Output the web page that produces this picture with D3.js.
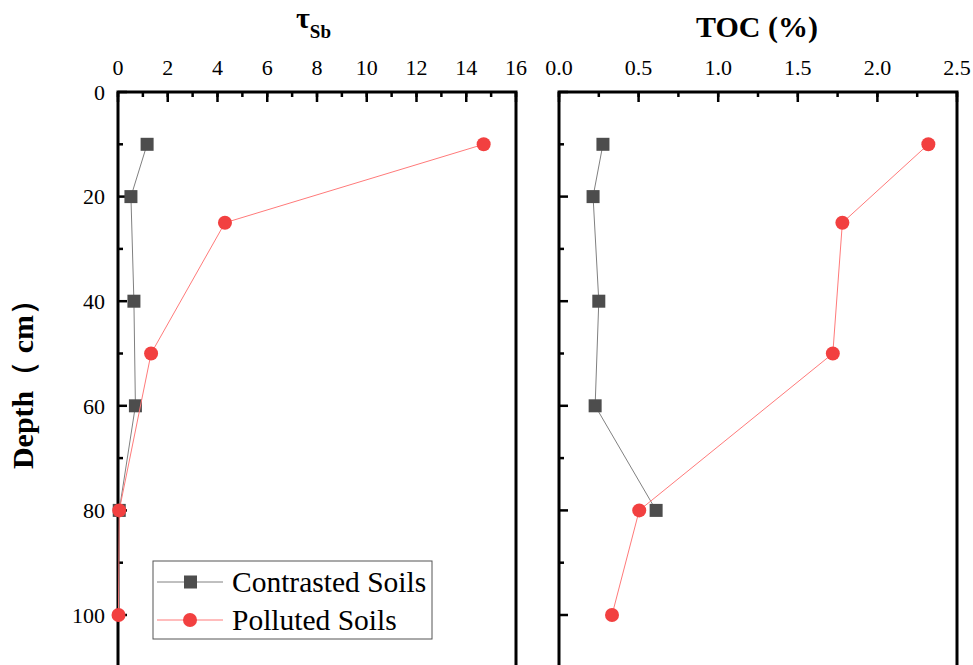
<!DOCTYPE html>
<html>
<head>
<meta charset="utf-8">
<script src="https://cdn.jsdelivr.net/npm/d3@7"></script>
<style>
  body { margin: 0; background: #fff; }
  text { font-family: "Liberation Serif", "Times New Roman", serif; }
</style>
</head>
<body>
<div id="chart"></div>
<script>
// Depths (cm) and values
const contrastDepth = [10, 20, 40, 60, 80];
const pollutedDepth = [10, 25, 50, 80, 100];
const tauContrast = [1.17, 0.52, 0.64, 0.7, 0.05];
const tauPolluted = [14.7, 4.3, 1.33, 0.05, 0.02];
const tocContrast = [0.276, 0.214, 0.25, 0.227, 0.61];
const tocPolluted = [2.32, 1.78, 1.72, 0.504, 0.333];

const tauTicks = [0, 2, 4, 6, 8, 10, 12, 14, 16];
const tocTicks = [0, 0.5, 1.0, 1.5, 2.0, 2.5];
const depthTicks = [0, 20, 40, 60, 80, 100];

const svg = d3.select("#chart").append("svg")
    .attr("width", 973)
    .attr("height", 665)
    .attr("font-family", "'Liberation Serif', 'Times New Roman', serif");

const y = d3.scaleLinear()
    .domain([0, 110])
    .range([92, 92 + 110 * 5.23]);

const contrastColor = "#4d4d4d", contrastLine = "#808080";
const pollutedColor = "#f24040", pollutedLine = "#ff7a7a";

function drawPanel(x0, x1, domain, ticks, minorStep, fmt, cData, pData, showYLabels) {
    const x = d3.scaleLinear().domain(domain).range([x0, x1]);
    const g = svg.append("g");
    const bottom = 680;

    // ticks on top axis, pointing inward
    const minorX = d3.range(domain[0], domain[1] + 1e-9, minorStep);
    g.selectAll(".mx").data(minorX).join("line")
        .attr("x1", d => x(d)).attr("x2", d => x(d))
        .attr("y1", y(0)).attr("y2", y(0) + 5)
        .attr("stroke", "#000").attr("stroke-width", 2.5);
    g.selectAll(".Mx").data(ticks).join("line")
        .attr("x1", d => x(d)).attr("x2", d => x(d))
        .attr("y1", y(0)).attr("y2", y(0) + 10)
        .attr("stroke", "#000").attr("stroke-width", 2.5);
    g.selectAll(".lx").data(ticks).join("text")
        .attr("x", d => x(d)).attr("y", 75)
        .attr("text-anchor", "middle")
        .attr("font-size", 22)
        .text(fmt);

    // ticks on left axis
    const minorY = d3.range(10, 111, 20);
    g.selectAll(".my").data(minorY).join("line")
        .attr("x1", x0).attr("x2", x0 + 5)
        .attr("y1", d => y(d)).attr("y2", d => y(d))
        .attr("stroke", "#000").attr("stroke-width", 2.5);
    g.selectAll(".My").data(depthTicks).join("line")
        .attr("x1", x0).attr("x2", x0 + 9)
        .attr("y1", d => y(d)).attr("y2", d => y(d))
        .attr("stroke", "#000").attr("stroke-width", 2.5);
    if (showYLabels) {
        g.selectAll(".ly").data(depthTicks).join("text")
            .attr("x", x0 - 13).attr("y", d => y(d))
            .attr("dy", "0.35em")
            .attr("text-anchor", "end")
            .attr("font-size", 22)
            .text(d => d);
    }

    // frame (top, left, right)
    g.append("path")
        .attr("d", `M${x0},${bottom}V${y(0)}H${x1}V${bottom}`)
        .attr("fill", "none").attr("stroke", "#000").attr("stroke-width", 3)
        .attr("stroke-linejoin", "miter");

    const line = d3.line().x(d => x(d[0])).y(d => y(d[1]));
    const cPts = cData.map((v, i) => [v, contrastDepth[i]]);
    const pPts = pData.map((v, i) => [v, pollutedDepth[i]]);

    g.append("path").datum(cPts).attr("d", line)
        .attr("fill", "none").attr("stroke", contrastLine).attr("stroke-width", 1);
    g.selectAll(".sq").data(cPts).join("rect")
        .attr("x", d => x(d[0]) - 6.5).attr("y", d => y(d[1]) - 6.5)
        .attr("width", 13).attr("height", 13)
        .attr("fill", contrastColor);

    g.append("path").datum(pPts).attr("d", line)
        .attr("fill", "none").attr("stroke", pollutedLine).attr("stroke-width", 1);
    g.selectAll(".ci").data(pPts).join("circle")
        .attr("cx", d => x(d[0])).attr("cy", d => y(d[1]))
        .attr("r", 7)
        .attr("fill", pollutedColor);
}

drawPanel(118, 516, [0, 16], tauTicks, 1, d => d, tauContrast, tauPolluted, true);
drawPanel(559, 957, [0, 2.5], tocTicks, 0.25, d => d.toFixed(1), tocContrast, tocPolluted, false);

// titles
const t1 = svg.append("text")
    .attr("x", 296).attr("y", 28)
    .attr("font-size", 30).attr("font-weight", "bold");
t1.append("tspan").text("τ");
t1.append("tspan").attr("font-size", 19).attr("dy", 10).text("Sb");

svg.append("text")
    .attr("x", 757).attr("y", 37)
    .attr("text-anchor", "middle")
    .attr("font-size", 30).attr("font-weight", "bold")
    .text("TOC (%)");

svg.append("text")
    .attr("transform", "translate(33,377) rotate(-90)")
    .attr("text-anchor", "middle")
    .attr("font-size", 30).attr("font-weight", "bold")
    .attr("font-family", "'Liberation Serif', 'Noto Sans CJK SC', serif")
    .text("Depth（ cm）");

// legend
const legend = svg.append("g");
legend.append("rect")
    .attr("x", 153).attr("y", 561).attr("width", 279).attr("height", 78)
    .attr("fill", "#fff").attr("stroke", "#555").attr("stroke-width", 1);

const legendItems = [
    { label: "Contrasted Soils", color: contrastColor, lineColor: contrastLine, shape: "square" },
    { label: "Polluted Soils", color: pollutedColor, lineColor: pollutedLine, shape: "circle" }
];
legendItems.forEach((it, i) => {
    const cy = 582 + i * 38;
    legend.append("line")
        .attr("x1", 157).attr("x2", 223).attr("y1", cy).attr("y2", cy)
        .attr("stroke", it.lineColor).attr("stroke-width", 1);
    if (it.shape === "square") {
        legend.append("rect").attr("x", 184).attr("y", cy - 6.5)
            .attr("width", 13).attr("height", 13).attr("fill", it.color);
    } else {
        legend.append("circle").attr("cx", 190).attr("cy", cy).attr("r", 7).attr("fill", it.color);
    }
    legend.append("text")
        .attr("x", 232).attr("y", cy).attr("dy", "0.35em")
        .attr("font-size", 29.5)
        .text(it.label);
});
</script>
</body>
</html>
